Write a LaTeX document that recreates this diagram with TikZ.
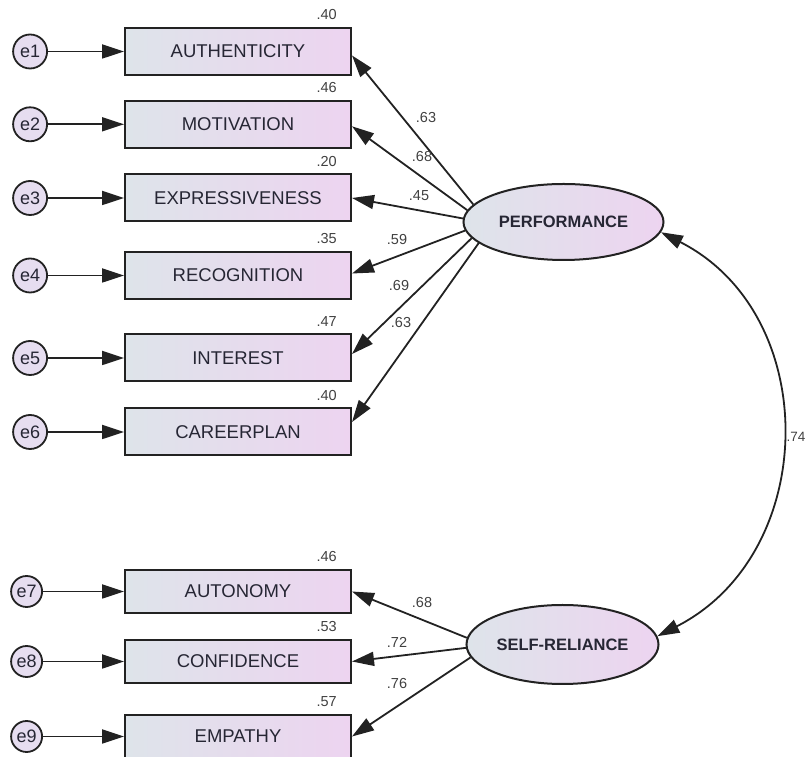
\documentclass[tikz,border=0pt]{standalone}
\usepackage{fontspec}
\setmainfont{Liberation Sans}
\usetikzlibrary{arrows.meta,positioning,shapes.geometric}
\definecolor{SemLine}{HTML}{222222}
\definecolor{SemText}{HTML}{262634}
\definecolor{SemNum}{HTML}{404040}
\definecolor{SemLeft}{HTML}{DEE4EA}
\definecolor{SemRight}{HTML}{EDD4F0}
\definecolor{SemErr}{HTML}{E6DDF0}

\begin{document}
\begin{tikzpicture}[
        x=1pt, y=1pt,
        obs/.style={
          draw=SemLine,
          line width=2pt,
          left color=SemLeft,
          right color=SemRight,
          inner sep=0pt,
          minimum width=226pt,
          minimum height=47pt,
          text=SemText,
          font=\fontsize{18.5}{20}\selectfont
        },
        lat/.style={
          ellipse,
          draw=SemLine,
          line width=2pt,
          left color=SemLeft,
          right color=SemRight,
          inner sep=0pt,
          minimum width=200pt,
          minimum height=76pt,
          text=SemText,
          font=\fontsize{16.5}{18}\selectfont\bfseries
        },
        err/.style={
          circle,
          draw=SemLine,
          line width=1.8pt,
          fill=SemErr,
          inner sep=0pt,
          minimum size=34pt,
          text=SemText,
          font=\fontsize{18}{20}\selectfont
        },
        num/.style={inner sep=0pt, text=SemNum, font=\fontsize{14.5}{16}\selectfont},
        regr/.style={-{Triangle[length=22pt,width=14pt]}, line width=1.8pt, draw=SemLine},
        cov/.style={{Triangle[length=22pt,width=14pt]}-{Triangle[length=22pt,width=14pt]}, line width=1.8pt, draw=SemLine}
      ]
        \useasboundingbox (0,0) rectangle (806,757);

        \node[obs] (b1) at (238,705.5) {AUTHENTICITY};
        \node[obs] (b2) at (238,632.7) {MOTIVATION};
        \node[obs] (b3) at (238,559) {EXPRESSIVENESS};
        \node[obs] (b4) at (238,481.5) {RECOGNITION};
        \node[obs] (b5) at (238,399) {INTEREST};
        \node[obs] (b6) at (238,325) {CAREERPLAN};
        \node[obs, minimum height=43pt] (b7) at (238,165.5) {AUTONOMY};
        \node[obs, minimum height=43pt] (b8) at (238,95.5) {CONFIDENCE};
        \node[obs, minimum height=43pt] (b9) at (238,20.5) {EMPATHY};

        \node[err, left=76pt of b1] (e1) {e1};
        \node[err, left=76pt of b2] (e2) {e2};
        \node[err, left=76pt of b3] (e3) {e3};
        \node[err, left=76pt of b4] (e4) {e4};
        \node[err, left=76pt of b5] (e5) {e5};
        \node[err, left=76pt of b6] (e6) {e6};
        \node[err, minimum size=31pt, left=81pt of b7] (e7) {e7};
        \node[err, minimum size=31pt, left=81pt of b8] (e8) {e8};
        \node[err, minimum size=31pt, left=81pt of b9] (e9) {e9};

        \node[num, above left=7pt and 15pt of b1.north east] (r1) {.40};
        \node[num, above left=7pt and 15pt of b2.north east] (r2) {.46};
        \node[num, above left=7pt and 15pt of b3.north east] (r3) {.20};
        \node[num, above left=7pt and 15pt of b4.north east] (r4) {.35};
        \node[num, above left=7pt and 15pt of b5.north east] (r5) {.47};
        \node[num, above left=7pt and 15pt of b6.north east] (r6) {.40};
        \node[num, above left=7pt and 15pt of b7.north east] (r7) {.46};
        \node[num, above left=7pt and 15pt of b8.north east] (r8) {.53};
        \node[num, above left=7pt and 15pt of b9.north east] (r9) {.57};

        \node[lat] (perf) at (563.5,535) {PERFORMANCE};
        \node[lat, minimum width=192pt, minimum height=79pt] (self) at (562.5,112.5) {SELF-RELIANCE};

        \draw[regr] (e1) -- (b1);
        \draw[regr] (e2) -- (b2);
        \draw[regr] (e3) -- (b3);
        \draw[regr] (e4) -- (b4);
        \draw[regr] (e5) -- (b5);
        \draw[regr] (e6) -- (b6);
        \draw[regr] (e7) -- (b7);
        \draw[regr] (e8) -- (b8);
        \draw[regr] (e9) -- (b9);

        \draw[regr] (perf.169) -- (b1.-2);
        \draw[regr] (perf.173) -- (b2.-1);
        \draw[regr] (perf.178) -- (b3.east);
        \draw[regr] (perf.185) -- (b4.1);
        \draw[regr] (perf.190) -- (b5.2);
        \draw[regr] (perf.194) -- (b6.5);
        \draw[regr] (self.176) -- (b7.east);
        \draw[regr] (self.182) -- (b8.east);
        \draw[regr] (self.188) -- (b9.east);
        \draw[cov] (perf.-6) to[out=-27, in=27, looseness=1.15] (self.5);

        \node[num] (l1) at (426,639) {.63};
        \node[num] (l2) at (422,600) {.68};
        \node[num] (l3) at (419,561) {.45};
        \node[num] (l4) at (397,517) {.59};
        \node[num] (l5) at (399,471) {.69};
        \node[num] (l6) at (401,434) {.63};
        \node[num] (l7) at (422,154) {.68};
        \node[num] (l8) at (397,115) {.72};
        \node[num] (l9) at (397,73) {.76};
        \node[num, anchor=east, font=\fontsize{13.5}{15}\selectfont] (c1) at (805.5,320) {.74};
      \end{tikzpicture}
\end{document}
